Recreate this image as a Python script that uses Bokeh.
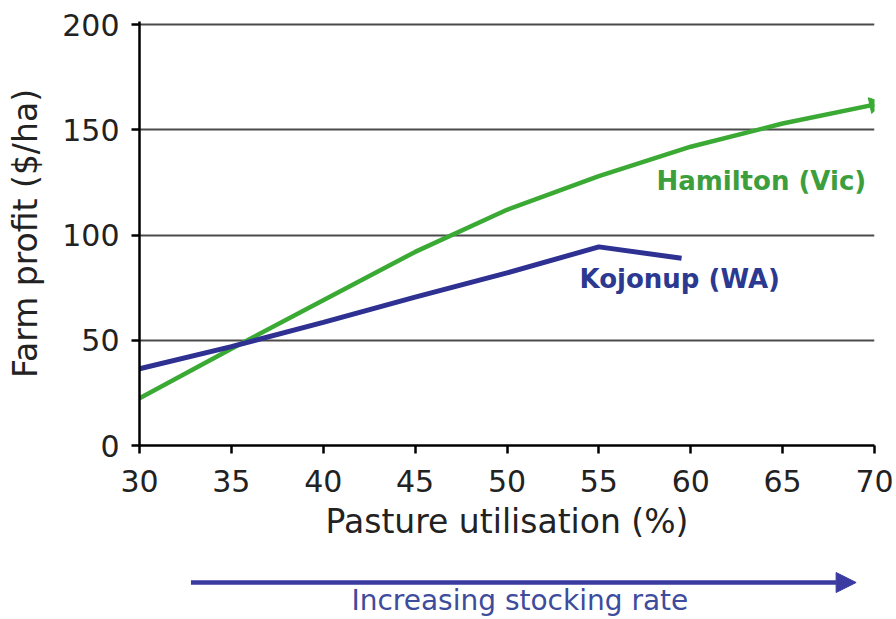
from bokeh.plotting import figure
from bokeh.layouts import column
from bokeh.models import Range1d, FixedTicker, Arrow, NormalHead
from bokeh.core.properties import value
from bokeh.embed import file_html
from bokeh.resources import INLINE

# ---- data ----
hamilton_x = [30, 35, 40, 45, 50, 55, 60, 65, 70]
hamilton_y = [22.4, 46, 69, 92, 112, 128, 142, 153, 162]
kojonup_x = [30, 35, 40, 45, 50, 55, 59.5]
kojonup_y = [36.5, 47, 58.5, 70.5, 82, 94.4, 89]
x_ticks = [30, 35, 40, 45, 50, 55, 60, 65, 70]
y_ticks = [0, 50, 100, 150, 200]
labels = ["Hamilton (Vic)", "Kojonup (WA)"]
arrow_text = "Increasing stocking rate"

FONT = "DejaVu Sans"
GREEN = "#3aaa35"
BLUE = "#2e3192"
TXT = "#222222"

p = figure(width=896, height=545, output_backend="svg", toolbar_location=None,
           x_range=Range1d(30, 70), y_range=Range1d(0, 201.5),
           min_border_left=139, min_border_right=22, min_border_top=21, min_border_bottom=100)
p.outline_line_color = None
p.background_fill_color = "white"

p.xgrid.grid_line_color = None
p.ygrid.grid_line_color = "#4a4a4a"
p.ygrid.grid_line_width = 1.8
p.ygrid.ticker = FixedTicker(ticks=y_ticks[1:])

for ax in (p.xaxis, p.yaxis):
    ax.axis_line_color = "black"
    ax.axis_line_width = 2.5
    ax.major_tick_line_color = "black"
    ax.major_tick_line_width = 2.5
    ax.major_tick_out = 8
    ax.major_tick_in = 0
    ax.minor_tick_line_color = None
    ax.major_label_text_font = FONT
    ax.major_label_text_font_size = "30px"
    ax.major_label_text_color = TXT
    ax.axis_label_text_font = FONT
    ax.axis_label_text_font_size = "33px"
    ax.axis_label_text_font_style = "normal"
    ax.axis_label_text_color = TXT

p.xaxis.ticker = FixedTicker(ticks=x_ticks)
p.yaxis.ticker = FixedTicker(ticks=y_ticks)
p.xaxis.axis_label = "Pasture utilisation (%)"
p.yaxis.axis_label = "Farm profit ($/ha)"
p.xaxis.major_label_standoff = 16
p.xaxis.axis_label_standoff = 7
p.yaxis.major_label_standoff = 12
p.yaxis.axis_label_standoff = 14

p.line(hamilton_x, hamilton_y, line_color=GREEN, line_width=4.5)
p.line(kojonup_x, kojonup_y, line_color=BLUE, line_width=5)
p.scatter([hamilton_x[-1]], [hamilton_y[-1]], marker="triangle", size=16,
          angle=-1.36, fill_color=GREEN, line_color=GREEN)

p.text(x=[69.55], y=[125.5], text=[labels[0]], text_font=value(FONT), text_font_style="bold",
       text_font_size="26px", text_color="#3c9e3c", text_align="right", text_baseline="middle")
p.text(x=[59.4], y=[79], text=[labels[1]], text_font=value(FONT), text_font_style="bold",
       text_font_size="26px", text_color="#2b3990", text_align="center", text_baseline="middle")

# ---- lower strip with arrow ----
q = figure(width=896, height=74, output_backend="svg", toolbar_location=None,
           x_range=p.x_range, y_range=Range1d(0, 74),
           min_border_left=139, min_border_right=22, min_border_top=0, min_border_bottom=0)
q.outline_line_color = None
q.axis.visible = False
q.grid.visible = False
q.add_layout(Arrow(x_start=32.8, y_start=37, x_end=69.0, y_end=37,
                   line_color="#3a3aa0", line_width=4.5,
                   end=NormalHead(size=20, fill_color="#3a3aa0", line_color="#3a3aa0")))
q.text(x=[50.7], y=[19], text=[arrow_text], text_font=value(FONT), text_font_size="28px",
       text_color="#3d4c9c", text_align="center", text_baseline="middle")

layout = column(p, q, spacing=0)
open("out.html", "w").write(file_html(layout, INLINE))
